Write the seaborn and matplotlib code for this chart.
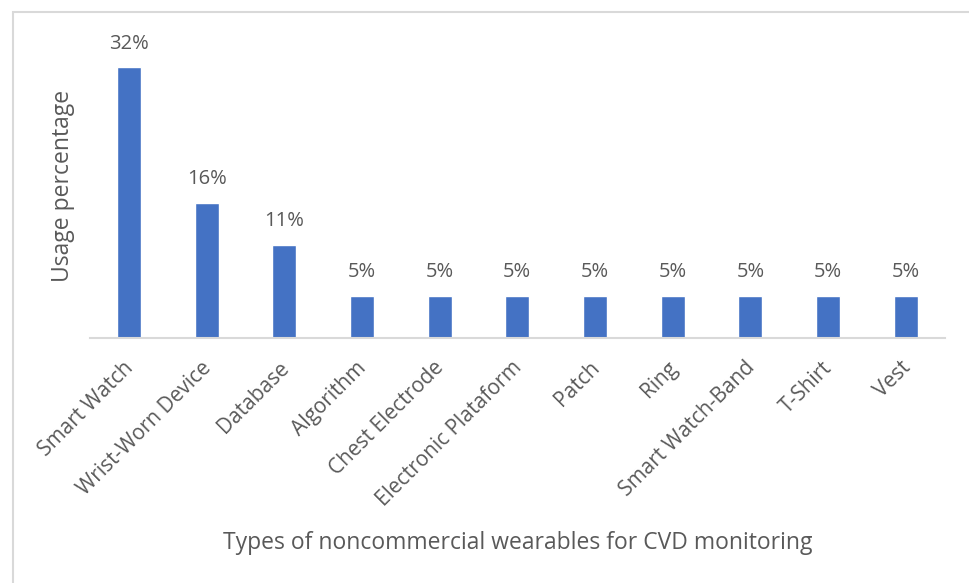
import matplotlib
matplotlib.use("Agg")
import matplotlib.pyplot as plt
from matplotlib.patches import Rectangle
from matplotlib.transforms import ScaledTranslation
import seaborn as sns
import pandas as pd

# data
categories = ["Smart Watch", "Wrist-Worn Device", "Database", "Algorithm",
              "Chest Electrode", "Electronic Plataform", "Patch", "Ring",
              "Smart Watch-Band", "T-Shirt", "Vest"]
usage = [32, 16, 11, 5, 5, 5, 5, 5, 5, 5, 5]

df = pd.DataFrame({"Type": categories, "Usage": usage})

sns.set_style("white")
plt.rcParams["font.family"] = ["Open Sans", "DejaVu Sans"]
text_color = "#595959"

fig = plt.figure(figsize=(9.7, 5.83), dpi=100)
ax = fig.add_axes([0.0928, 0.4203, 0.881, 0.5227])

sns.barplot(data=df, x="Type", y="Usage", color="#4472C4", width=0.31,
            saturation=1, ax=ax)

for i, v in enumerate(usage):
    ax.text(i, v + 1.6, f"{v}%", ha="center", va="bottom",
            fontsize=14.5, color=text_color)

ax.set_xlim(-0.5, len(categories) - 0.5)
ax.set_ylim(0, 36)
ax.set_yticks([])
for side in ["top", "right", "left"]:
    ax.spines[side].set_visible(False)
ax.spines["bottom"].set_color("#d9d9d9")
ax.spines["bottom"].set_linewidth(1.5)

ax.tick_params(axis="x", length=0, pad=14)
ax.set_xticks(range(len(categories)))
ax.set_xticklabels(categories, rotation=45, ha="right",
                   rotation_mode="anchor", fontsize=15, color=text_color)
# nudge labels a little to the left, like the original
shift = ScaledTranslation(-6 / 100, 0, fig.dpi_scale_trans)
for lab in ax.get_xticklabels():
    lab.set_transform(lab.get_transform() + shift)

ax.set_xlabel("Types of noncommercial wearables for CVD monitoring",
              fontsize=16.5, color=text_color)
ax.xaxis.set_label_coords(0.5, -0.635)
ax.set_ylabel("Usage percentage", fontsize=16.5, color=text_color)
ax.yaxis.set_label_coords(-0.017, 0.5)

# chart frame
fig.patches.append(Rectangle((13 / 970, -0.05), 1.0, 1 - 12 / 583 + 0.05,
                             transform=fig.transFigure, fill=False,
                             edgecolor="#d9d9d9", linewidth=1.5))

fig.savefig("out.png", dpi=100)
